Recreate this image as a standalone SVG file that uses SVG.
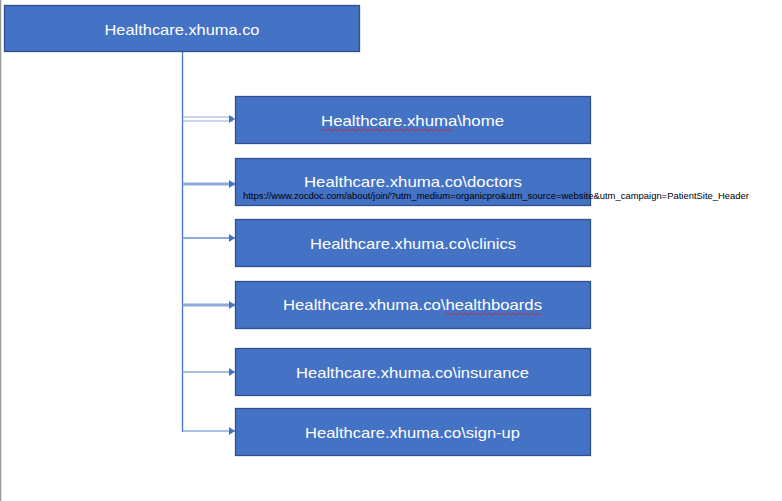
<svg xmlns="http://www.w3.org/2000/svg" width="782" height="501" viewBox="0 0 782 501">
<defs>
<style>
.box{fill:#4472c4;stroke:#2f528f;stroke-width:1.3}
.t{font-family:"Liberation Sans",Arial,sans-serif;font-size:15px;fill:#ffffff;text-anchor:middle}
.c{stroke:#8faadc;fill:none}
.sq{stroke:#e02020;stroke-width:0.8;fill:none}
</style>
<marker id="ah" markerWidth="6" markerHeight="8" refX="6" refY="4" orient="auto" markerUnits="userSpaceOnUse">
<path d="M0,0 L6,4 L0,8 Z" fill="#4472c4"/>
</marker>
</defs>
<rect x="0" y="0" width="782" height="501" fill="#ffffff"/>
<line x1="0.5" y1="0" x2="0.5" y2="501" stroke="#999999" stroke-width="1.5"/>
<g id="connectors">
<line x1="182.5" y1="52" x2="182.5" y2="432" stroke="#4472c4" stroke-width="1.3"/>
<line class="c" x1="182.5" y1="117" x2="233" y2="117" stroke-width="1.2"/>
<line class="c" x1="182.5" y1="121" x2="233" y2="121" stroke-width="1.2"/>
<line x1="230" y1="119" x2="235" y2="119" stroke="none" marker-end="url(#ah)"/>
<line class="c" x1="182.5" y1="184" x2="235" y2="184" stroke-width="3" marker-end="url(#ah)"/>
<line class="c" x1="182.5" y1="238" x2="235" y2="238" stroke-width="2" marker-end="url(#ah)"/>
<line class="c" x1="182.5" y1="305" x2="235" y2="305" stroke-width="3" marker-end="url(#ah)"/>
<line class="c" x1="182.5" y1="372" x2="235" y2="372" stroke-width="1.5" marker-end="url(#ah)"/>
<line class="c" x1="182.5" y1="431" x2="235" y2="431" stroke-width="1.5" marker-end="url(#ah)"/>
</g>
<g id="root">
<rect class="box" x="4.5" y="5.5" width="355" height="46"/>
<text class="t" x="182" y="35" textLength="155" lengthAdjust="spacingAndGlyphs">Healthcare.xhuma.co</text>
</g>
<g id="home">
<rect class="box" x="235.5" y="96.5" width="355" height="47"/>
<text class="t" x="412.5" y="126" textLength="183" lengthAdjust="spacingAndGlyphs">Healthcare.xhuma\home</text>
<path class="sq" d="M321,130 q1.5,-2 3,0 t3,0 t3,0 t3,0 t3,0 t3,0 t3,0 t3,0 t3,0 t3,0 t3,0 t3,0 t3,0 t3,0 t3,0 t3,0 t3,0 t3,0 t3,0 t3,0 t3,0 t3,0 t3,0 t3,0 t3,0 t3,0 t3,0 t3,0 t3,0 t3,0 t3,0 t3,0 t3,0 t3,0 t3,0 t3,0 t3,0 t3,0 t3,0 t3,0 t3,0 t3,0 t3,0 t3,0"/>
</g>
<g id="doctors">
<rect class="box" x="235.5" y="158.5" width="355" height="47"/>
<text class="t" x="413" y="187" textLength="218" lengthAdjust="spacingAndGlyphs">Healthcare.xhuma.co\doctors</text>
<text x="243" y="198.5" font-family="'Liberation Sans',Arial,sans-serif" font-size="8.5" fill="#000000" textLength="506" lengthAdjust="spacingAndGlyphs">https://www.zocdoc.com/about/join/?utm_medium=organicpro&amp;utm_source=website&amp;utm_campaign=PatientSite_Header</text>
</g>
<g id="clinics">
<rect class="box" x="235.5" y="219.5" width="355" height="47"/>
<text class="t" x="413" y="248.5" textLength="206" lengthAdjust="spacingAndGlyphs">Healthcare.xhuma.co\clinics</text>
</g>
<g id="healthboards">
<rect class="box" x="235.5" y="281.5" width="355" height="47"/>
<text class="t" x="412.5" y="309.5" textLength="259" lengthAdjust="spacingAndGlyphs">Healthcare.xhuma.co\healthboards</text>
<path class="sq" d="M446,314 q1.5,-2 3,0 t3,0 t3,0 t3,0 t3,0 t3,0 t3,0 t3,0 t3,0 t3,0 t3,0 t3,0 t3,0 t3,0 t3,0 t3,0 t3,0 t3,0 t3,0 t3,0 t3,0 t3,0 t3,0 t3,0 t3,0 t3,0 t3,0 t3,0 t3,0 t3,0 t3,0 t3,0"/>
</g>
<g id="insurance">
<rect class="box" x="235.5" y="348.5" width="355" height="47"/>
<text class="t" x="412.5" y="377.5" textLength="233" lengthAdjust="spacingAndGlyphs">Healthcare.xhuma.co\insurance</text>
</g>
<g id="signup">
<rect class="box" x="235.5" y="408.5" width="355" height="47"/>
<text class="t" x="412.5" y="437.5" textLength="215" lengthAdjust="spacingAndGlyphs">Healthcare.xhuma.co\sign-up</text>
</g>
</svg>
